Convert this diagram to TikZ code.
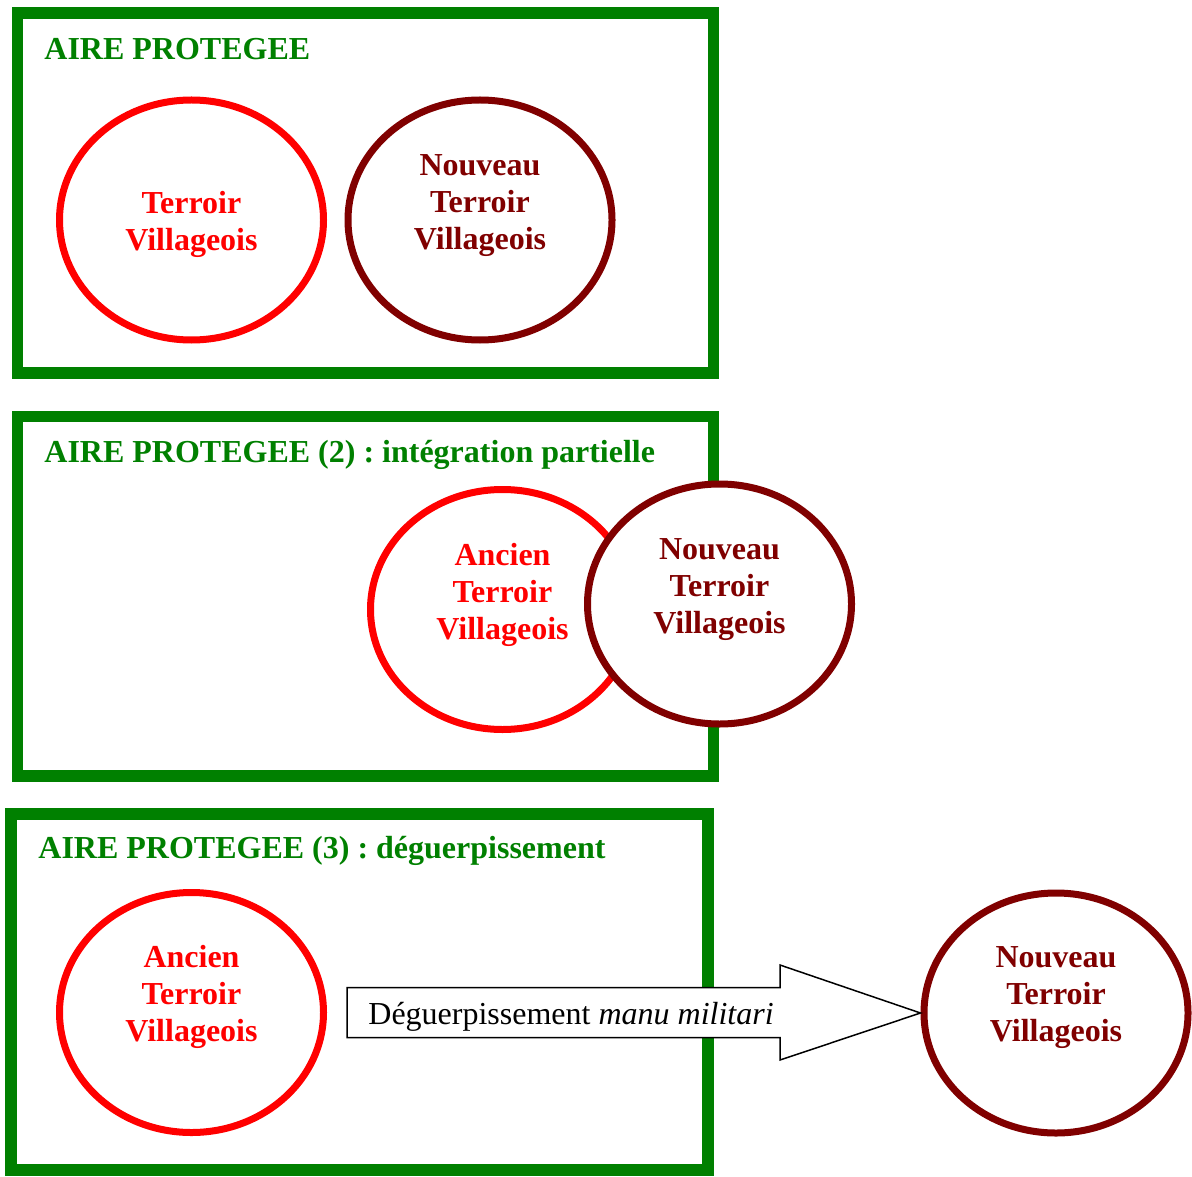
\documentclass[tikz,border=0pt]{standalone}
\usepackage{fontspec}
\setmainfont{Liberation Serif}
\usetikzlibrary{shapes.geometric,calc}
\definecolor{vert}{RGB}{0,128,0}
\definecolor{rouge}{RGB}{255,0,0}
\definecolor{bordeaux}{RGB}{128,0,0}
\frenchspacing
\tikzset{
  aire/.style={draw=vert, line width=5.75pt},
  titre/.style={anchor=base west, inner sep=0pt, text=vert,
    font=\bfseries\fontsize{16}{18.5}\selectfont},
  ancien/.style={ellipse, draw=rouge, fill=white, line width=3.5pt,
    minimum width=132pt, minimum height=120pt, inner sep=0pt},
  nouveau/.style={ancien, draw=bordeaux},
  etiq/.style={align=center, inner sep=0pt,
    font=\bfseries\fontsize{16}{18.5}\selectfont},
  fleche/.style={draw=black, fill=white, line width=0.75pt, line join=miter}
}
\begin{document}
\begin{tikzpicture}[x=0.5pt,y=-0.5pt]
  \useasboundingbox (0,0) rectangle (1192,1176);

  \draw[aire] (17.5,13) rectangle (713.5,373);
  \node[titre] (titre1) at (44,60) {AIRE PROTEGEE};
  \node[ancien] (a1) at (191.5,220) {};
  \node[nouveau] (n1) at (480,220) {};
  \node[etiq, text=rouge] (ta1) at ($(a1)+(0,4.4)$) {Terroir\\Villageois};
  \node[etiq, text=bordeaux] (tn1) at ($(n1)+(0,-14.6)$) {Nouveau\\Terroir\\Villageois};

  \draw[aire] (17.5,416.5) rectangle (713.5,776);
  \node[titre] (titre2) at (44,462) {AIRE PROTEGEE (2) : intégration partielle};
  \node[ancien] (a2) at (502.5,609.5) {};
  \node[nouveau] (n2) at (719.5,604) {};
  \node[etiq, text=rouge] (ta2) at ($(a2)+(0,-14.6)$) {Ancien\\Terroir\\Villageois};
  \node[etiq, text=bordeaux] (tn2) at ($(n2)+(0,-14.6)$) {Nouveau\\Terroir\\Villageois};

  \draw[aire] (11,814) rectangle (708,1170);
  \node[titre] (titre3) at (38,858) {AIRE PROTEGEE (3) : déguerpissement};
  \node[ancien] (a3) at (191.5,1012.5) {};
  \node[nouveau] (n3) at (1056,1013) {};
  \node[etiq, text=rouge] (ta3) at ($(a3)+(0,-15.5)$) {Ancien\\Terroir\\Villageois};
  \node[etiq, text=bordeaux] (tn3) at ($(n3)+(0,-15.5)$) {Nouveau\\Terroir\\Villageois};

  \coordinate (queue) at (347,1012.5);
  \coordinate (tete) at (780,1012.5);
  \draw[fleche] ($(queue)+(0,-25)$) -- ($(tete)+(0,-25)$) -- ($(tete)+(0,-47.5)$)
    -- (n3.west) -- ($(tete)+(0,47.5)$) -- ($(tete)+(0,25)$) -- ($(queue)+(0,25)$) -- cycle;
  \node[anchor=base west, inner sep=0pt, font=\fontsize{16}{18.5}\selectfont]
    (deguerp) at (368,1024) {Déguerpissement \textit{manu militari}};
\end{tikzpicture}
\end{document}
